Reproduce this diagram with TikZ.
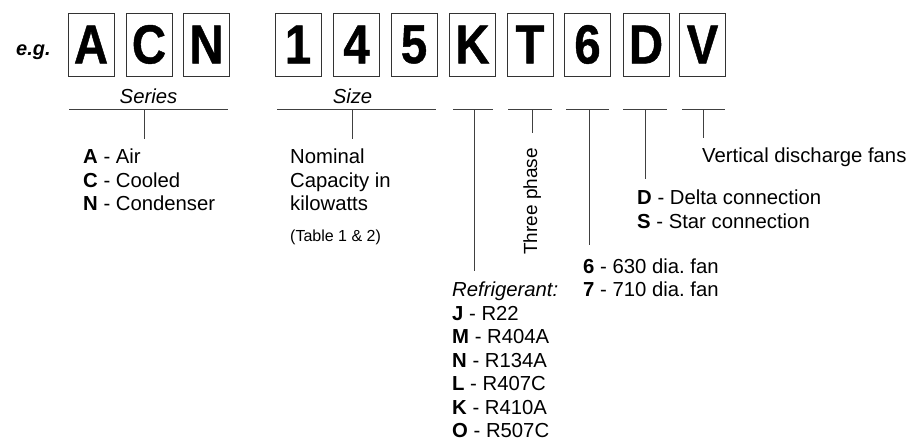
\documentclass[tikz,border=0pt]{standalone}
\usepackage{fontspec}
\setmainfont{Liberation Sans}
\newfontfamily\codefont[FakeStretch=0.86,FakeBold=0.8]{Liberation Sans}
\frenchspacing
\begin{document}
\begin{tikzpicture}[x=1pt,y=-1pt,
  codebox/.style={draw=black!80,line width=0.9pt,minimum width=46pt,minimum height=63pt,
    inner sep=0pt,font=\fontsize{55}{55}\codefont\bfseries},
  txt/.style={anchor=base west,inner sep=0pt,font=\fontsize{20.3}{23.5}\selectfont},
  itxt/.style={txt,font=\fontsize{20.3}{23.5}\selectfont\itshape},
  small/.style={anchor=base west,inner sep=0pt,font=\fontsize{16}{18}\selectfont},
  lead/.style={draw=black!75,line width=1pt}]
\useasboundingbox (0,0) rectangle (914,441);

% example code
\node[anchor=base west,inner sep=0pt,font=\fontsize{20}{20}\selectfont\bfseries\itshape] (eg) at (16,56) {e.g.};
\node[codebox] (bA) at (91,44.5) {A};
\node[codebox] (bC) at (149,44.5) {C};
\node[codebox] (bN) at (206.5,44.5) {N};
\node[codebox] (b1) at (298,44.5) {1};
\node[codebox] (b4) at (356.5,44.5) {4};
\node[codebox] (b5) at (414,44.5) {5};
\node[codebox] (bK) at (472.5,44.5) {K};
\node[codebox] (bT) at (530,44.5) {T};
\node[codebox] (b6) at (587.5,44.5) {6};
\node[codebox] (bD) at (646,44.5) {D};
\node[codebox] (bV) at (702.5,44.5) {V};

% group captions
\node[itxt,anchor=base] (series) at (148.5,104) {Series};
\node[itxt,anchor=base] (size) at (352.5,104) {Size};

% bracket ends
\coordinate (serL) at (69,110);  \coordinate (serR) at (228,110);
\coordinate (serT) at (144,110); \coordinate (serB) at (144,139);
\coordinate (sizL) at (277,110); \coordinate (sizR) at (436,110);
\coordinate (sizT) at (352,110); \coordinate (sizB) at (352,139);
\coordinate (refL) at (453,110); \coordinate (refR) at (493,110);
\coordinate (refT) at (474,110); \coordinate (refB) at (474,271);
\coordinate (phL) at (508,110);  \coordinate (phR) at (552,110);
\coordinate (phT) at (532,110);  \coordinate (phB) at (532,133);
\coordinate (fanL) at (566,110); \coordinate (fanR) at (609,110);
\coordinate (fanT) at (589,110); \coordinate (fanB) at (589,245);
\coordinate (conL) at (623,110); \coordinate (conR) at (667,110);
\coordinate (conT) at (645,110); \coordinate (conB) at (645,179);
\coordinate (vdL) at (682,110);  \coordinate (vdR) at (725,110);
\coordinate (vdT) at (703,110);  \coordinate (vdB) at (703,138);

% descriptions
\node[txt] (sA) at (83,164) {\textbf{A} - Air};
\node[txt] (sC) at (83,187.5) {\textbf{C} - Cooled};
\node[txt] (sN) at (83,211) {\textbf{N} - Condenser};

\node[txt] (z1) at (290,164) {Nominal};
\node[txt] (z2) at (290,187.5) {Capacity in};
\node[txt] (z3) at (290,211) {kilowatts};
\node[small] (z4) at (290,241) {(Table 1 \& 2)};

\node[itxt] (rf) at (452,296.5) {Refrigerant:};
\node[txt] (rJ) at (452,320) {\textbf{J} - R22};
\node[txt] (rM) at (452,343.5) {\textbf{M} - R404A};
\node[txt] (rN) at (452,367) {\textbf{N} - R134A};
\node[txt] (rL) at (452,390.5) {\textbf{L} - R407C};
\node[txt] (rK) at (452,414) {\textbf{K} - R410A};
\node[txt] (rO) at (452,437.5) {\textbf{O} - R507C};

\node[txt,rotate=90,font=\fontsize{19}{19}\selectfont] (ph) at (537,255) {Three phase};

\node[txt] (f6) at (583,273) {\textbf{6} - 630 dia. fan};
\node[txt] (f7) at (583,296.5) {\textbf{7} - 710 dia. fan};

\node[txt] (cD) at (637,205) {\textbf{D} - Delta connection};
\node[txt] (cS) at (637,228.5) {\textbf{S} - Star connection};

\node[txt] (vd) at (702,163) {Vertical discharge fans};

% brackets
\draw[lead] (serL) -- (serR) (serT) -- (serB);
\draw[lead] (sizL) -- (sizR) (sizT) -- (sizB);
\draw[lead] (refL) -- (refR) (refT) -- (refB);
\draw[lead] (phL) -- (phR) (phT) -- (phB);
\draw[lead] (fanL) -- (fanR) (fanT) -- (fanB);
\draw[lead] (conL) -- (conR) (conT) -- (conB);
\draw[lead] (vdL) -- (vdR) (vdT) -- (vdB);
\end{tikzpicture}
\end{document}
